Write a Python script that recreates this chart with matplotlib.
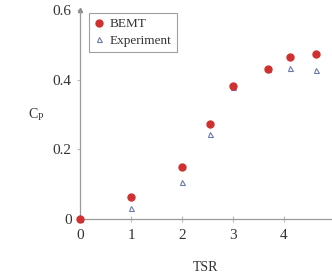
import matplotlib
matplotlib.use("Agg")
import matplotlib.pyplot as plt

tsr_bemt = [0, 1, 2, 2.55, 3.0, 3.69, 4.12, 4.63]
cp_bemt = [0.0, 0.063, 0.149, 0.274, 0.383, 0.430, 0.466, 0.474]
tsr_exp = [0, 1, 2, 2.55, 3.0, 3.69, 4.12, 4.63]
cp_exp = [0.0, 0.031, 0.106, 0.243, 0.380, 0.432, 0.434, 0.428]
xticks = [0, 1, 2, 3, 4]
yticks = [0, 0.2, 0.4, 0.6]
ytick_labels = ["0", "0.2", "0.4", "0.6"]

plt.rcParams['font.family'] = ['Liberation Serif', 'DejaVu Serif']

fig = plt.figure(figsize=(3.32, 2.76), dpi=100)
W, H = 332, 276
ax = fig.add_axes([80 / W, 57 / H, 252 / W, 209 / H])

ax.plot(tsr_exp, cp_exp, linestyle='none', marker='^', markersize=3.6,
        markerfacecolor='none', markeredgecolor='#6d7aa8', markeredgewidth=0.8,
        label='Experiment', clip_on=False, zorder=3)
ax.plot(tsr_bemt, cp_bemt, linestyle='none', marker='o', markersize=5.0,
        color='#cf3030', label='BEMT', clip_on=False, zorder=4)

ax.set_xlim(0, 4.94)
ax.set_ylim(0, 0.6)
ax.set_xticks(xticks)
ax.set_yticks(yticks)
ax.set_yticklabels(ytick_labels)
for s in ['top', 'right']:
    ax.spines[s].set_visible(False)
for s in ['left', 'bottom']:
    ax.spines[s].set_color('#9a9a9a')
    ax.spines[s].set_linewidth(0.9)
ax.tick_params(axis='x', direction='inout', length=4, color='#bbbbbb',
               labelsize=11, labelcolor='#333333', pad=5)
ax.tick_params(axis='y', direction='out', length=2, color='#bbbbbb',
               labelsize=11, labelcolor='#333333', pad=4)
ax.plot([0], [0.6], marker='^', markersize=3, color='#888888',
        transform=ax.transData, clip_on=False)
# partially visible "5" tick label at the right edge
ax.text(5.0, -0.05, '5', fontsize=11, color='#333333', ha='center', va='center',
        clip_on=False, transform=ax.transData)

ax.set_xlabel('TSR', fontsize=10, color='#333333', labelpad=14)
ax.set_ylabel(r'C$_\mathregular{P}$', fontsize=10, color='#333333',
              rotation=0, va='center', ha='center')
ax.yaxis.set_label_coords(-0.175, 0.5)

handles, labels = ax.get_legend_handles_labels()
leg = ax.legend(handles[::-1], labels[::-1], loc='upper left',
                bbox_to_anchor=(0.025, 1.0), fontsize=9.5, frameon=True,
                fancybox=False, edgecolor='#888888', handlelength=0.8,
                handletextpad=0.4, borderpad=0.4, labelspacing=0.35,
                borderaxespad=0.2)
leg.get_frame().set_linewidth(0.8)
for t in leg.get_texts():
    t.set_color('#333333')

fig.savefig('out.png', dpi=100)
